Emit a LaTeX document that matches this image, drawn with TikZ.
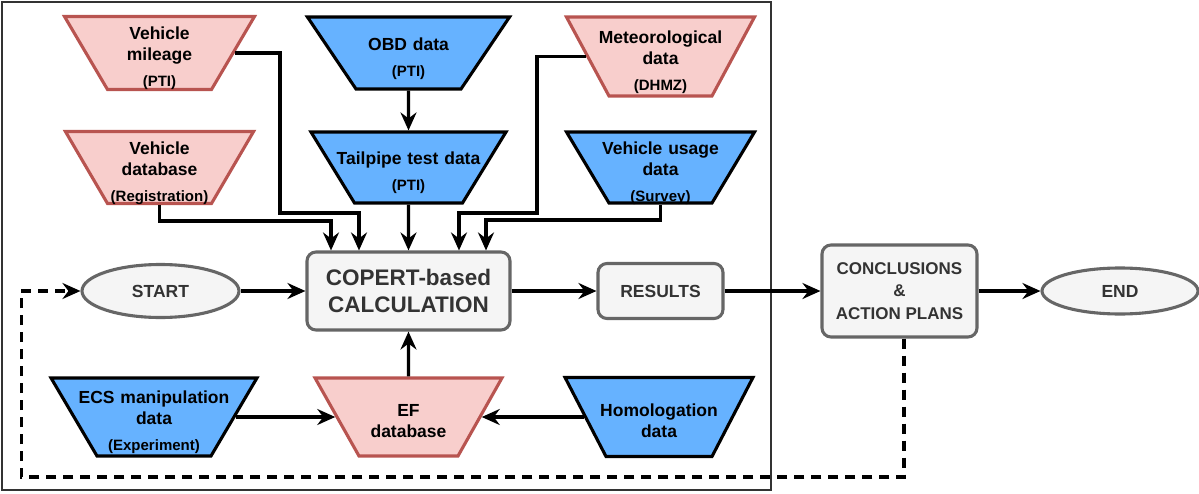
\documentclass[tikz,border=0pt]{standalone}
\usepackage{fontspec}
\setmainfont{Liberation Sans}
\usetikzlibrary{arrows.meta,positioning,shapes.geometric}

\definecolor{pinkfill}{HTML}{F8CECC}
\definecolor{pinkline}{HTML}{B85450}
\definecolor{bluefill}{HTML}{66B2FF}
\definecolor{grayfill}{HTML}{F5F5F5}
\definecolor{grayline}{HTML}{666666}
\definecolor{graytext}{HTML}{333333}

\newcommand{\tlines}[1]{\makebox[0pt]{\smash{\raisebox{-10.5pt}{\begin{tabular}{@{}c@{}}#1\end{tabular}}}}}
\newcommand{\srcname}[1]{\\[5pt]{\fontsize{15}{18}\selectfont #1}}

\begin{document}
\begin{tikzpicture}[>={Stealth[length=18pt,width=16pt,inset=6pt]},x=1pt,y=1pt,line width=3.1pt,
    font=\bfseries\fontsize{17.5}{21}\selectfont,
    trap/.style n args={3}{trapezium,shape border rotate=180,inner sep=0pt,align=center,
        text width=#1pt,text height=#2pt,text depth=#2pt,trapezium left angle=#3,trapezium right angle=#3},
    pinkdata/.style={fill=pinkfill,draw=pinkline},
    bluedata/.style={fill=bluefill,draw=black},
    box/.style={rectangle,rounded corners=9pt,fill=grayfill,draw=grayline,text=graytext,align=center},
    oval/.style={ellipse,fill=grayfill,draw=grayline,text=graytext}]
    \useasboundingbox (-408.5,291) rectangle (790.5,-202);
    \draw[line width=1.3pt,black!80] (-406.5,289) rectangle (362.5,-199);

    \node[box,minimum width=203pt,minimum height=78pt,font=\bfseries\fontsize{22.5}{27}\selectfont] (calc) {COPERT-based\\CALCULATION};
    \node[oval,minimum width=157pt,minimum height=53pt] (start) [left of=calc,node distance=248pt] {START};
    \node[box,minimum width=125pt,minimum height=55pt] (res) [right of=calc,node distance=252pt] {RESULTS};
    \node[box,minimum width=155pt,minimum height=92pt,font=\bfseries\fontsize{17}{22.5}\selectfont] (concl) [right of=res,node distance=239pt] {CONCLUSIONS\\\&\\ACTION PLANS};
    \node[oval,minimum width=156pt,minimum height=46pt] (finish) [right of=concl,node distance=220.5pt] {END};

    \node[bluedata,trap={108}{35.5}{58.5}] (tail) [above of=calc,node distance=123.5pt] {\tlines{Tailpipe test data\srcname{(PTI)}}};
    \node[bluedata,trap={105}{36}{56}] (obd) [above of=tail,node distance=114.5pt] {\tlines{OBD data\srcname{(PTI)}}};
    \node[pinkdata,trap={104}{36}{59.7}] (vdb) [left of=tail,node distance=249pt] {\tlines{Vehicle\\database\srcname{(Registration)}}};
    \node[pinkdata,trap={104}{36.5}{59.5}] (mil) [above of=vdb,node distance=114.5pt] {\tlines{Vehicle\\mileage\srcname{(PTI)}}};
    \node[bluedata,trap={103}{35.5}{59.1}] (use) [right of=tail,node distance=252pt] {\tlines{Vehicle usage\\data\srcname{(Survey)}}};
    \node[pinkdata,trap={103}{39.5}{61.7}] (met) [above of=use,node distance=111pt] {\tlines{Meteorological\\data\srcname{(DHMZ)}}};
    \node[pinkdata,trap={99}{39}{60.6}] (ef) [below of=calc,node distance=126pt] {\tlines{EF\\database}};
    \node[bluedata,trap={114}{39}{59.5}] (ecs) [left of=ef,node distance=254.5pt] {\tlines{ECS manipulation\\data\srcname{(Experiment)}}};
    \node[bluedata,trap={106}{39.5}{62.6}] (hom) [right of=ef,node distance=250.5pt] {\tlines{Homologation\\data}};

    \path[->] (obd) edge (tail);
    \path[->] (tail) edge (calc);
    \path[->] (start) edge (calc);
    \path[->] (calc) edge (res);
    \path[->] (res) edge (concl);
    \path[->] (concl) edge (finish);
    \path[->] (ef) edge (calc);
    \path[->] (ecs) edge (ef);
    \path[->] (hom) edge (ef);
    \draw[->] (mil.east) -| ([xshift=-128.5pt,yshift=78pt]calc.center) -| ([xshift=-49.5pt]calc.north);
    \draw[->] (vdb.south) |- ([xshift=-77.5pt,yshift=70pt]calc.center) -- ([xshift=-77.5pt]calc.north);
    \draw[->] (met.west) -| ([xshift=128.5pt,yshift=78pt]calc.center) -| ([xshift=50.5pt]calc.north);
    \draw[->] (use.south) |- ([xshift=77.5pt,yshift=71pt]calc.center) -- ([xshift=77.5pt]calc.north);
    \draw[->,dash pattern=on 10pt off 7pt] ([xshift=4.5pt]concl.south) |- ([xshift=-59pt,yshift=-186pt]start.west) -- ([xshift=-59pt]start.west) -- (start.west);
\end{tikzpicture}
\end{document}
